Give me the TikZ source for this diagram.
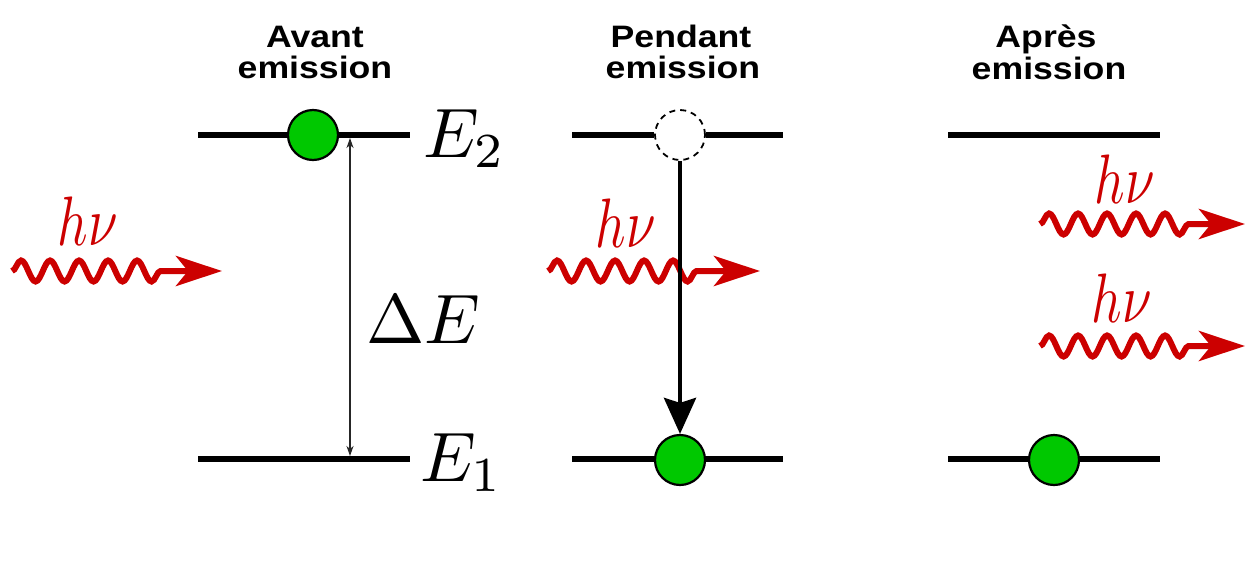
\documentclass[tikz,border=0pt]{standalone}
\usepackage[no-math]{fontspec}
\newfontfamily\titlefont{Liberation Sans}
\usetikzlibrary{arrows.meta,decorations.pathmorphing}
\definecolor{myred}{RGB}{204,0,0}
\definecolor{mygreen}{RGB}{0,200,0}
\tikzset{
  level/.style={line width=6pt, black},
  electron/.style={circle, draw=black, line width=2.2pt, fill=mygreen, minimum size=50pt, inner sep=0pt},
  hole/.style={circle, draw=black, line width=1.8pt, dash pattern=on 6pt off 5pt, fill=white, minimum size=50pt, inner sep=0pt},
  photon/.style={draw=myred, line width=6pt, decorate,
    decoration={snake, amplitude=10.5pt, segment length=29pt, post length=56pt},
    -{Stealth[length=46pt,width=30pt,inset=12pt]}},
  hnu/.style={text=myred, anchor=base, inner sep=0pt},
  elabel/.style={anchor=base west, inner sep=0pt},
  ttl/.style={anchor=base, inner sep=0pt, font=\titlefont\bfseries\fontsize{31}{34}\selectfont},
  gap/.style={line width=1.3pt, draw=black!85, {Stealth[length=10pt,width=7pt,inset=3pt]}-{Stealth[length=10pt,width=7pt,inset=3pt]}},
  drop/.style={line width=4.5pt, -{Stealth[length=36pt,width=32pt,inset=5pt]}}
}
\newcommand{\wide}[1]{\scalebox{1.15}[1]{#1}}
\newcommand{\bigmath}[1]{\scalebox{7}{$#1$}}
\newcommand{\hnutext}{\scalebox{5.3}[7]{$h\nu$}}
\begin{document}
\begin{tikzpicture}[x=1pt,y=-1pt]
\useasboundingbox[fill=white] (0,0) rectangle (1247,581);
% titles
\node[ttl] (t1a) at (315,47) {\wide{Avant}};
\node[ttl] (t1b) at (315,78) {\wide{emission}};
\node[ttl] (t2a) at (681,47) {\wide{Pendant}};
\node[ttl] (t2b) at (683,78) {\wide{emission}};
\node[ttl] (t3a) at (1046,47) {\wide{Après}};
\node[ttl] (t3b) at (1049,79) {\wide{emission}};
% level end points
\coordinate (a1) at (198,135); \coordinate (b1) at (410,135);
\coordinate (c1) at (198,459); \coordinate (d1) at (410,459);
\coordinate (a2) at (572,135); \coordinate (b2) at (783,135);
\coordinate (c2) at (572,459); \coordinate (d2) at (783,459);
\coordinate (a3) at (948,135); \coordinate (b3) at (1160,135);
\coordinate (c3) at (948,459); \coordinate (d3) at (1160,459);
% panel 1
\draw[level] (a1) -- (b1);
\draw[level] (c1) -- (d1);
\node[electron] (g1) at (313,135) {};
\coordinate (dt) at (350,138); \coordinate (db) at (350,456);
\draw[gap] (dt) -- (db);
\node[elabel] (e2) at (423,157) {\bigmath{E_2}};
\node[elabel] (e1) at (420,481) {\bigmath{E_1}};
\node[elabel] (de) at (366,343) {\bigmath{\Delta E}};
% panel 2
\node[hole] (h2) at (680,135) {};
\draw[level] (a2) -- (h2.west);
\draw[level] (h2.east) -- (b2);
\draw[level] (c2) -- (d2);
\node[electron] (g2) at (680,460) {};
% panel 3
\draw[level] (a3) -- (b3);
\draw[level] (c3) -- (d3);
\node[electron] (g3) at (1054,460) {};
% photons
\coordinate (p1s) at (12,271); \coordinate (p1e) at (222,271);
\coordinate (p2s) at (548,271); \coordinate (p2e) at (760,271);
\coordinate (p3s) at (1040,224); \coordinate (p3e) at (1245,224);
\coordinate (p4s) at (1040,346); \coordinate (p4e) at (1245,346);
\draw[photon] (p1s) -- (p1e);
\draw[photon] (p2s) -- (p2e);
\draw[drop] (h2.south) -- (g2.north);
\draw[photon] (p3s) -- (p3e);
\draw[photon] (p4s) -- (p4e);
\node[hnu] (n1) at (88,245) {\hnutext};
\node[hnu] (n2) at (626,247) {\hnutext};
\node[hnu] (n3) at (1125,203) {\hnutext};
\node[hnu] (n4) at (1122,322) {\hnutext};
\end{tikzpicture}
\end{document}
